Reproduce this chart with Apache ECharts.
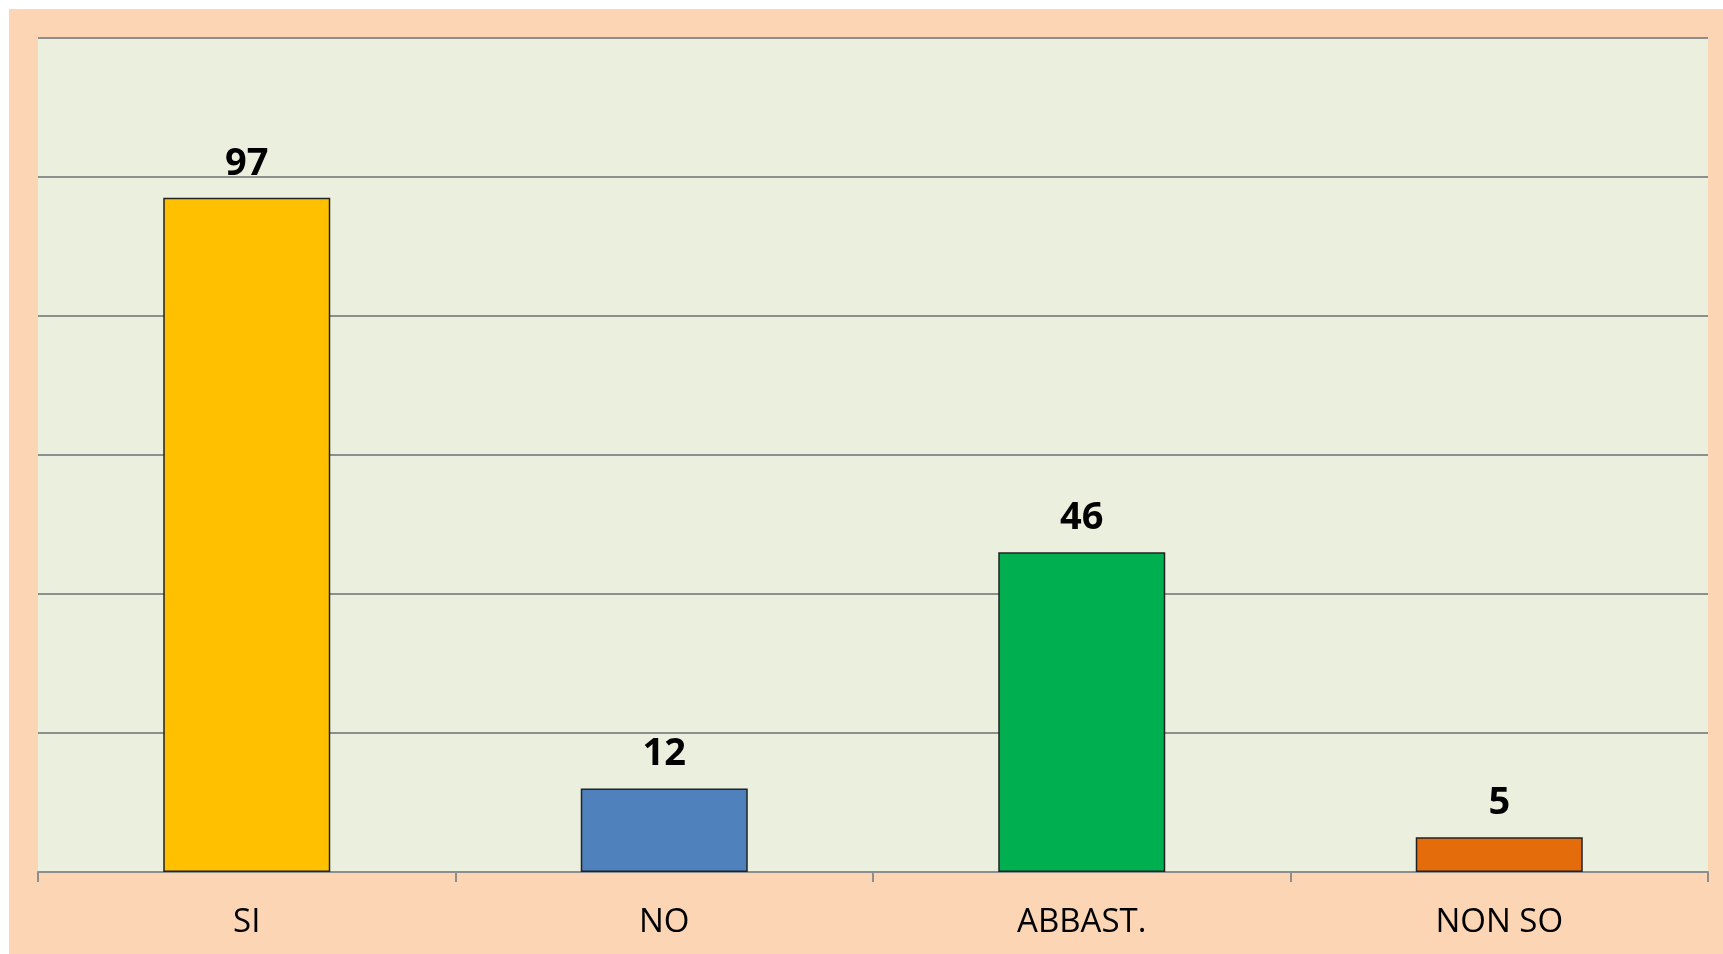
<!DOCTYPE html>
<html>
<head>
<meta charset="utf-8">
<script src="https://cdn.jsdelivr.net/npm/echarts@6/dist/echarts.min.js"></script>
<style>
html,body{margin:0;padding:0;background:#ffffff;}
#chart{width:1723px;height:954px;}
</style>
</head>
<body>
<div id="chart"></div>
<script>
const categories = ['SI', 'NO', 'ABBAST.', 'NON SO'];
const values = [97, 12, 46, 5];
const barColors = ['#FFC000', '#4F81BD', '#00B050', '#E46C0A'];
const yMin = 0, yMax = 120, yInterval = 20;

const chart = echarts.init(document.getElementById('chart'));
chart.setOption({
  backgroundColor: '#ffffff',
  animation: false,
  graphic: [{
    type: 'rect', z: -10, silent: true,
    shape: { x: 9, y: 9, width: 1714, height: 945 },
    style: { fill: '#FCD5B5' }
  }],
  grid: {
    left: 38, right: 15, top: 38, bottom: 82,
    show: true, backgroundColor: '#EBF0DE', borderWidth: 0
  },
  xAxis: {
    type: 'category',
    data: categories,
    axisLine: { show: true, lineStyle: { color: '#8E8E8E', width: 2 } },
    axisTick: { show: true, length: 10, alignWithLabel: false, lineStyle: { color: '#8E8E8E', width: 2 } },
    axisLabel: { color: '#000000', fontFamily: 'Open Sans', fontSize: 33, margin: 34 }
  },
  yAxis: {
    type: 'value',
    min: yMin, max: yMax, interval: yInterval,
    axisLine: { show: false },
    axisTick: { show: false },
    axisLabel: { show: false },
    splitLine: { show: true, lineStyle: { color: '#8E8E8E', width: 2 } }
  },
  series: [{
    type: 'bar',
    barWidth: '40%',
    data: values.map((v, i) => ({
      value: v,
      itemStyle: { color: barColors[i], borderColor: '#222222', borderWidth: 1.5 }
    })),
    label: {
      show: true, position: 'top', distance: 15,
      color: '#000000', fontFamily: 'Open Sans', fontWeight: 'bold', fontSize: 38
    }
  }]
});
</script>
</body>
</html>
